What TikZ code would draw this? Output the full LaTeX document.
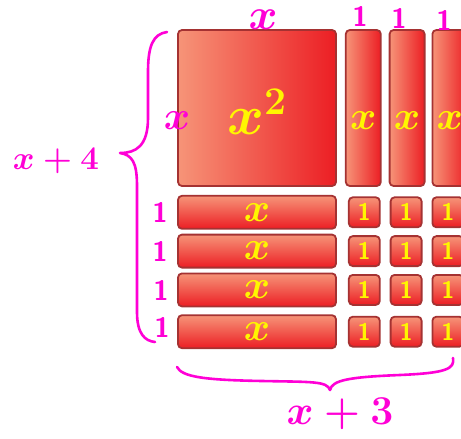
\documentclass[tikz,border=0pt]{standalone}
\usepackage{fix-cm}
\usetikzlibrary{positioning}
\definecolor{tilelight}{RGB}{246,148,120}
\definecolor{tilered}{RGB}{236,30,36}
\definecolor{tileedge}{RGB}{165,50,50}
\definecolor{penpink}{RGB}{255,0,214}
\definecolor{penyellow}{RGB}{255,246,0}
\begin{document}
\begin{tikzpicture}[x=1pt, y=-1pt,
  tile/.style={draw=tileedge, line width=1.8pt, rounded corners=4pt, inner sep=0pt},
  vtile/.style={tile, left color=tilelight, right color=tilered,
                minimum width=35pt, minimum height=156pt},
  htile/.style={tile, top color=tilelight, bottom color=tilered,
                minimum width=158pt, minimum height=33pt,
                text=penyellow, font=\boldmath\fontsize{40}{40}\selectfont},
  unittile/.style={tile, top color=tilelight, bottom color=tilered,
                minimum width=31pt, minimum height=30pt,
                text=penyellow, font=\sffamily\bfseries\fontsize{24}{24}\selectfont},
  yellowlab/.style={text=penyellow, inner sep=0pt, font=\boldmath\fontsize{40}{40}\selectfont},
  pinklab/.style={text=penpink, inner sep=0pt, font=\boldmath\fontsize{40}{40}\selectfont},
  pinkone/.style={text=penpink, inner sep=0pt, font=\sffamily\bfseries\fontsize{28}{28}\selectfont},
  pen/.style={draw=penpink, line width=2.6pt, line cap=round, line join=round}]
  \useasboundingbox (0,0) rectangle (461,439);
  \clip (0,0) rectangle (461,439);

  % x^2 square and the three upright x tiles
  \node (sq) [tile, left color=tilelight, right color=tilered,
              minimum width=158pt, minimum height=156pt] at (257,108) {};
  \node (v1) [vtile, right=8pt of sq] {};
  \node (v2) [vtile, right=7pt of v1] {};
  \node (v3) [vtile, right=6pt of v2] {};

  % four lying x tiles
  \node (h1) [htile, below=8pt of sq] {$x$};
  \node (h2) [htile, below=4pt of h1] {$x$};
  \node (h3) [htile, below=4pt of h2] {$x$};
  \node (h4) [htile, below=7pt of h3] {$x$};

  % unit tiles
  \node (u11) [unittile, right=11pt of h1] {1};
  \node (u12) [unittile, right=9pt of u11] {1};
  \node (u13) [unittile, right=9pt of u12] {1};
  \node (u21) [unittile, right=11pt of h2] {1};
  \node (u22) [unittile, right=9pt of u21] {1};
  \node (u23) [unittile, right=9pt of u22] {1};
  \node (u31) [unittile, right=11pt of h3] {1};
  \node (u32) [unittile, right=9pt of u31] {1};
  \node (u33) [unittile, right=9pt of u32] {1};
  \node (u41) [unittile, right=11pt of h4] {1};
  \node (u42) [unittile, right=9pt of u41] {1};
  \node (u43) [unittile, right=9pt of u42] {1};

  % yellow labels on the big tiles
  \node (sqlab) [yellowlab, font=\boldmath\fontsize{56}{56}\selectfont] at ([yshift=-4pt]sq.center) {$x^2$};
  \node (v1lab) [yellowlab] at ([yshift=-13pt]v1.center) {$x$};
  \node (v2lab) [yellowlab] at ([yshift=-13pt]v2.center) {$x$};
  \node (v3lab) [yellowlab] at ([yshift=-13pt]v3.center) {$x$};

  % pink side lengths
  \node (topx)  [pinklab, font=\boldmath\fontsize{44}{44}\selectfont] at (263,20) {$x$};
  \node (leftx) [pinklab] at (177,121) {$x$};
  \node (top1)  [pinkone] at (360,16) {1};
  \node (top2)  [pinkone] at (399,18) {1};
  \node (top3)  [pinkone] at (444,20) {1};
  \node (left1) [pinkone] at (160,212) {1};
  \node (left2) [pinkone] at (160,251) {1};
  \node (left3) [pinkone] at (161,290) {1};
  \node (left4) [pinkone] at (162,327) {1};
  \node (height) [pinklab, font=\boldmath\fontsize{33}{33}\selectfont] at (56,161) {$x+4$};
  \node (width)  [pinklab, font=\boldmath\fontsize{41}{41}\selectfont] at (340,414) {$x+3$};

  % braces
  \coordinate (lbtop) at (167,32);
  \coordinate (lbtip) at (120,153);
  \coordinate (lbbot) at (155,342);
  \draw[pen] (lbtop) .. controls (153,34) and (148,46) .. (148,72) -- (148,118)
    .. controls (148,146) and (136,153) .. (lbtip)
    .. controls (132,155) and (137,162) .. (137,186) -- (137,312)
    .. controls (137,334) and (145,341) .. (lbbot);
  \coordinate (bbleft)  at (177,367);
  \coordinate (bbtip)   at (330,390);
  \coordinate (bbright) at (453,358);
  \draw[pen] (bbleft) .. controls (182,377) and (205,380) .. (262,381)
    .. controls (312,382) and (327,381) .. (bbtip)
    .. controls (332,380) and (350,377) .. (400,375)
    .. controls (446,373) and (455,369) .. (bbright);
\end{tikzpicture}
\end{document}
